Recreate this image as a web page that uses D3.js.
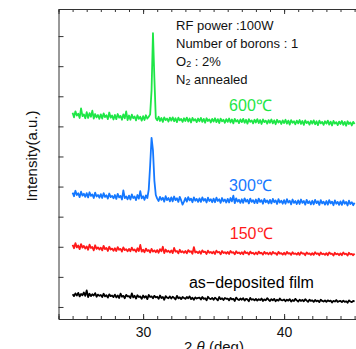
<!DOCTYPE html>
<html>
<head>
<meta charset="utf-8">
<script src="https://cdn.jsdelivr.net/npm/d3@7"></script>
<style>
  body { margin: 0; background: #fff; }
  svg { display: block; font-family: "Liberation Sans", Arial, sans-serif; }
</style>
</head>
<body>
<svg id="chart" width="356" height="349"></svg>
<script>
// scan grid: 25.0 .. 45.0 deg, 0.1 deg step
const scanStart = 25, scanStep = 0.1;

// intensities (a.u. x100, already offset per sample)
const asDeposited = [
  42,36,45,38,47,35,43,39,48,37, 55,33,44,36,42,38,46,34,41,37,
  40,33,44,35,39,31,42,36,38,33, 41,32,38,30,44,34,37,29,40,35,
  36,30,45,32,37,28,39,33,35,27, 38,31,36,26,40,33,35,29,37,32,
  34,27,38,30,33,24,36,31,29,35, 28,34,30,25,37,29,32,26,33,30,
  27,33,29,35,26,31,24,32,28,30, 31,25,33,27,29,22,34,28,26,30,
  24,31,27,22,33,26,29,23,30,27, 28,22,30,25,27,20,31,26,23,28,
  24,29,21,27,25,19,30,24,26,22, 27,21,26,23,28,20,25,22,29,24,
  20,26,22,27,19,24,21,28,23,22, 25,19,24,21,26,18,23,20,27,22,
  18,24,20,23,19,26,21,17,24,20, 22,17,23,19,21,16,24,20,18,22,
  17,22,19,21,15,20,18,23,17,19, 20,16,21,17,19,14,22,18,16,20,
  18
];
const annealed150 = [
  206,195,212,198,204,192,209,197,203,194, 201,190,207,196,199,188,205,193,198,191,
  197,188,203,192,196,186,200,191,194,187, 195,186,199,190,193,184,198,189,192,185,
  193,185,197,188,191,183,195,186,206,184, 190,182,194,186,189,181,193,184,188,182,
  189,180,192,185,200,179,191,183,187,181, 188,179,196,184,186,178,190,182,185,180,
  186,178,189,183,185,177,199,181,184,179, 185,177,188,182,184,176,187,180,183,178,
  184,176,187,181,183,175,186,179,182,177, 183,176,186,180,182,175,185,179,181,176,
  182,175,185,179,181,174,184,178,180,175, 181,175,184,178,180,174,183,177,180,175,
  181,174,183,178,179,173,183,177,179,174, 180,174,183,177,179,173,182,176,178,174,
  180,173,182,177,178,172,181,176,178,173, 179,173,182,176,178,172,181,175,177,173,
  179,172,181,176,177,171,180,175,177,172, 178,172,181,175,177,171,180,175,176,172,
  177
];
const annealed300 = [
  380,368,386,372,378,365,383,370,376,366, 378,364,381,369,374,362,380,367,372,363,
  375,362,378,366,371,360,377,365,369,361, 372,359,376,364,369,357,387,362,367,358,
  370,357,374,362,367,355,372,360,385,361, 368,356,371,362,390,470,562,520,420,372,
  360,352,366,356,363,350,368,355,362,351, 364,351,367,355,361,349,366,354,340,350,
  362,350,365,354,360,348,364,353,359,349, 361,349,364,353,359,347,363,352,358,348,
  360,348,363,352,358,346,362,351,357,347, 359,347,362,351,370,345,361,350,356,346,
  358,346,361,350,356,344,360,349,355,345, 357,345,360,349,355,343,359,348,354,344,
  356,344,359,348,354,342,358,347,353,343, 355,343,358,347,353,341,357,346,352,342,
  354,342,357,346,352,340,356,345,351,341, 353,341,356,345,351,339,355,344,350,340,
  352,340,355,344,350,338,354,343,349,339, 351,339,354,343,349,337,353,342,348,338,
  346
];
const annealed600 = [
  645,630,650,636,642,628,660,634,640,627, 647,628,644,632,652,626,641,630,638,625,
  640,626,643,631,637,624,646,629,636,623, 638,624,641,629,635,622,640,627,650,621,
  636,622,639,627,633,620,637,625,632,619, 634,621,637,626,632,640,720,910,760,628,
  620,632,618,628,615,630,621,626,616,629, 619,630,617,627,614,629,620,625,615,627,
  618,629,616,626,613,628,619,624,614,626, 617,628,615,625,612,627,618,623,613,625,
  616,627,614,624,611,626,617,622,612,624, 615,626,613,623,610,625,616,621,611,623,
  614,625,612,622,609,624,615,620,610,622, 613,624,611,621,608,623,614,619,609,621,
  612,623,610,620,607,622,613,618,608,620, 611,622,609,619,606,621,612,617,607,619,
  610,621,608,618,605,620,611,616,606,618, 609,620,607,617,604,619,610,615,605,617,
  609,619,606,616,603,618,609,614,604,616, 608,618,605,615,602,617,608,613,603,615,
  608
];

const seriesNames = ["as−deposited film", "150℃", "300℃", "600℃"];
const seriesData = [asDeposited, annealed150, annealed300, annealed600];
const seriesColors = ["#000000", "#ff1a1a", "#1478ff", "#1ee646"];
// label anchor in data units [2theta, intensity]
const labelPos = [[33.25, 63], [36.15, 227], [36.1, 386], [36.1, 652]];

const noteLines = ["RF power :100W", "Number of borons : 1"];

const xTicksMajor = [30, 40];
const yTickValues = [0, 100, 200, 300, 400, 500, 600, 700, 800, 900];

const svg = d3.select("#chart");
const margin = { left: 58.5, top: 9, bottom: 319 };

const x = d3.scaleLinear().domain([24, 46]).range([margin.left, margin.left + 22 * 14.1]);
const y = d3.scaleLinear().domain([-40, 990]).range([margin.bottom, margin.top]);

const axisColor = "#333";

// series traces
const line = d3.line()
  .x((d, i) => x(scanStart + i * scanStep))
  .y(d => y(d));

svg.append("g")
  .selectAll("path")
  .data(seriesData)
  .join("path")
  .attr("d", d => line(d))
  .attr("fill", "none")
  .attr("stroke", (d, i) => seriesColors[i])
  .attr("stroke-width", 1.8)
  .attr("stroke-linejoin", "round");

// axes (ticks pointing inward)
const minorTicks = d3.range(24, 47, 1);

svg.append("g")
  .attr("transform", `translate(0,${margin.bottom})`)
  .call(d3.axisBottom(x).tickValues(minorTicks).tickSize(-3).tickFormat(""))
  .call(g => g.select(".domain").remove())
  .call(g => g.selectAll("line").attr("stroke", axisColor));

svg.append("g")
  .attr("transform", `translate(0,${margin.bottom})`)
  .call(d3.axisBottom(x).tickValues(xTicksMajor).tickSize(-5).tickPadding(8))
  .call(g => g.select(".domain").attr("stroke", axisColor))
  .call(g => g.selectAll("line").attr("stroke", axisColor))
  .call(g => g.selectAll("text").attr("font-size", 14).attr("fill", "#111")
    .attr("y", 8).attr("dy", "0.71em"));

svg.append("g")
  .attr("transform", `translate(0,${margin.top})`)
  .call(d3.axisTop(x).tickValues(minorTicks).tickSize(-3).tickFormat(""))
  .call(g => g.select(".domain").remove())
  .call(g => g.selectAll("line").attr("stroke", axisColor));

svg.append("g")
  .attr("transform", `translate(0,${margin.top})`)
  .call(d3.axisTop(x).tickValues(xTicksMajor).tickSize(-5).tickFormat(""))
  .call(g => g.select(".domain").attr("stroke", axisColor))
  .call(g => g.selectAll("line").attr("stroke", axisColor));

svg.append("g")
  .attr("transform", `translate(${margin.left},0)`)
  .call(d3.axisLeft(y).tickValues(yTickValues).tickSize(-5).tickFormat(""))
  .call(g => g.select(".domain").attr("stroke", axisColor))
  .call(g => g.selectAll("line").attr("stroke", axisColor));

// axis titles
svg.append("text")
  .attr("transform", `translate(37,156) rotate(-90)`)
  .attr("text-anchor", "middle")
  .attr("font-size", 15)
  .attr("fill", "#111")
  .text("Intensity(a.u.)");

const xt = svg.append("text")
  .attr("x", 214)
  .attr("y", 352)
  .attr("text-anchor", "middle")
  .attr("font-size", 15)
  .attr("fill", "#111");
xt.append("tspan").text("2 ");
xt.append("tspan").attr("font-style", "italic").text("θ");
xt.append("tspan").text(" (deg)");

// series labels
svg.append("g")
  .selectAll("text")
  .data(seriesNames)
  .join("text")
  .attr("x", (d, i) => x(labelPos[i][0]))
  .attr("y", (d, i) => y(labelPos[i][1]))
  .attr("font-size", 16)
  .attr("fill", (d, i) => seriesColors[i])
  .text(d => d);

// condition notes
const notes = svg.append("g").attr("font-size", 13).attr("fill", "#111");
noteLines.forEach((t, i) => {
  notes.append("text").attr("x", 176).attr("y", 30 + i * 18).text(t);
});
const o2 = notes.append("text").attr("x", 176).attr("y", 66);
o2.append("tspan").text("O");
o2.append("tspan").attr("font-size", 9).attr("dy", 1).text("2");
o2.append("tspan").attr("dy", -1).text(" : 2%");
const n2 = notes.append("text").attr("x", 176).attr("y", 84);
n2.append("tspan").text("N");
n2.append("tspan").attr("font-size", 9).attr("dy", 1).text("2");
n2.append("tspan").attr("dy", -1).text(" annealed");
</script>
</body>
</html>
